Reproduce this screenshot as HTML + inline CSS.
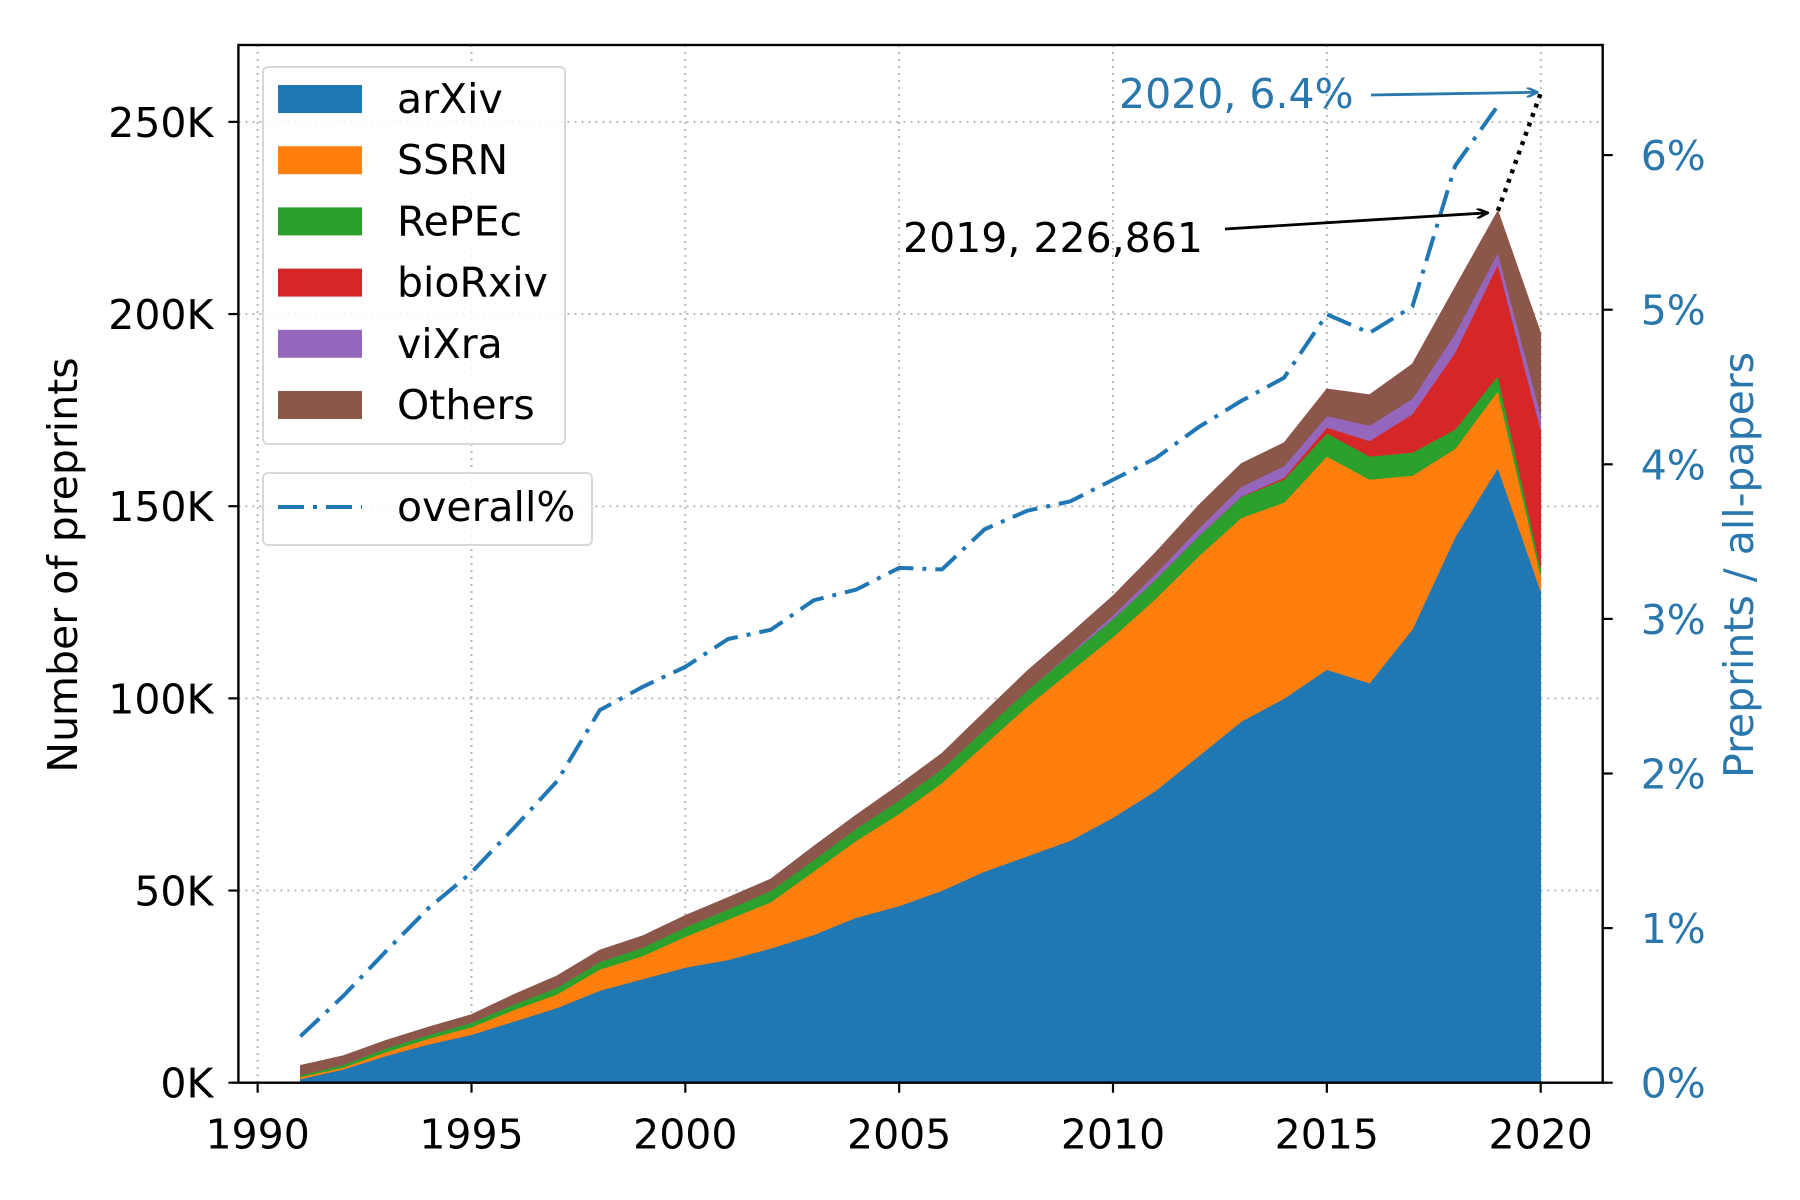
<!DOCTYPE html>
<html><head><meta charset="utf-8"><style>
body{margin:0;background:#fff}
svg{display:block;font-family:"DejaVu Sans","Liberation Sans",sans-serif}
</style></head><body>
<svg id="chart" width="1800" height="1200" viewBox="0 0 1800 1200" xmlns="http://www.w3.org/2000/svg">
<g id="grid"></g>
<g id="areas"></g>
<g id="lines"></g>
<g id="axes"></g>
<g id="legend"></g>
<g id="annot"></g>
</svg>
<script>
const years=[1991,1992,1993,1994,1995,1996,1997,1998,1999,2000,2001,2002,2003,2004,2005,2006,2007,2008,2009,2010,2011,2012,2013,2014,2015,2016,2017,2018,2019,2020];
const arxiv=[1,3.5,7,10,12.5,16,19.5,24,27,30,32,35,38.5,43,46,50,55,59,63,69,76,85,94,100,107.5,104,118,142,160,128];
const ssrn=[0.5,0.5,1,1.5,2,3,3.5,5.5,6,8,10.5,12,16.5,20,24,28,33,39,44,47,50,52,53,51,55.5,53,40,23,20,4];
const repec=[0.5,0.7,1,1,1.2,1.5,1.8,2,2.2,2.5,2.7,3,3,3.2,3.5,3.7,4,4.2,4.5,4.7,5,5.2,5.5,6,6,6,6,5,4,2];
const biorxiv=[0,0,0,0,0,0,0,0,0,0,0,0,0,0,0,0,0,0,0,0,0,0,0.1,0.5,1.5,4,10,20,29,36];
const vixra=[0,0,0,0,0,0,0,0,0,0,0,0,0,0,0,0,0,0,0.3,1,1.5,2,2.5,3,3,4,4,5,3,4];
const others=[2.5,2.3,2,2,2,2.5,3,3,3,3,3,3,3.5,3.5,4,4,4.5,5,5,5,5.5,6,6,6,7,8,9,12,10.861,21];
const overallPct=[0.30,0.56,0.85,1.13,1.36,1.65,1.95,2.41,2.56,2.69,2.87,2.93,3.12,3.19,3.33,3.32,3.58,3.70,3.76,3.90,4.04,4.24,4.41,4.56,4.97,4.85,5.02,5.93,6.32];
const pct2020=6.4;
const yTicks=[0,50,100,150,200,250];
const yTickLabels=["0K","50K","100K","150K","200K","250K"];
const xTicks=[1990,1995,2000,2005,2010,2015,2020];
const rTicks=[0,1,2,3,4,5,6];
const seriesNames=["arXiv","SSRN","RePEc","bioRxiv","viXra","Others"];
const colors=["#1f77b4","#ff7f0e","#2ca02c","#d62728","#9467bd","#8c564b"];

const L=238.4,R=1602.7,T=45,B=1082.7;
const X=y=>L+(y-1989.55)/(2021.45-1989.55)*(R-L);
const Y=v=>B-v/270*(B-T);
const P=p=>B-p*154.6;
const NS="http://www.w3.org/2000/svg";
function mk(tag,attrs,parent,text){const e=document.createElementNS(NS,tag);for(const k in attrs)e.setAttribute(k,attrs[k]);if(text!==undefined)e.textContent=text;parent.appendChild(e);return e;}
const grid=document.getElementById('grid'),areas=document.getElementById('areas'),lines=document.getElementById('lines'),axes=document.getElementById('axes'),legend=document.getElementById('legend'),annot=document.getElementById('annot');
const FS=41;

xTicks.forEach(t=>{const g=mk('line',{x1:X(t),x2:X(t),y1:T,y2:B,stroke:'#b8b8b8','stroke-width':2,'stroke-dasharray':'2,5'},grid);

});
yTicks.forEach(t=>{const g=mk('line',{x1:L,x2:R,y1:Y(t),y2:Y(t),stroke:'#b8b8b8','stroke-width':2,'stroke-dasharray':'2,5'},grid);

});

const series=[arxiv,ssrn,repec,biorxiv,vixra,others];
let base=years.map(()=>0);
series.forEach((s,i)=>{
  const top=base.map((b,j)=>b+s[j]);
  let d='M'+years.map((y,j)=>X(y)+','+Y(top[j])).join('L');
  for(let j=years.length-1;j>=0;j--)d+='L'+X(years[j])+','+Y(base[j]);
  const p=mk('path',{d:d+'Z',fill:colors[i],stroke:colors[i],'stroke-width':0.8},areas);
  
  
  base=top;
});
const totals=base;

const pl=mk('polyline',{points:overallPct.map((p,j)=>X(years[j])+','+P(p)).join(' '),fill:'none',stroke:'#1f77b4','stroke-width':4,'stroke-dasharray':'26,9,4,9'},lines);


const dl=mk('line',{x1:X(2019),y1:Y(totals[28]),x2:X(2020),y2:P(pct2020),stroke:'#000','stroke-width':4.5,'stroke-dasharray':'4,6'},lines);



const fr=mk('rect',{x:L,y:T,width:R-L,height:B-T,fill:'none',stroke:'#000','stroke-width':2.4},axes);


yTicks.forEach((t,i)=>{mk('line',{x1:L-10,x2:L,y1:Y(t),y2:Y(t),stroke:'#000','stroke-width':2.2},axes);
const tl=mk('text',{x:L-25,y:Y(t)+15,'text-anchor':'end','font-size':FS,fill:'#000'},axes,yTickLabels[i]);

});
xTicks.forEach(t=>{mk('line',{x1:X(t),x2:X(t),y1:B,y2:B+10,stroke:'#000','stroke-width':2.2},axes);
const tl=mk('text',{x:X(t),y:B+66,'text-anchor':'middle','font-size':FS,fill:'#000'},axes,String(t));

});
rTicks.forEach(t=>{mk('line',{x1:R,x2:R+10,y1:P(t),y2:P(t),stroke:'#000','stroke-width':2.2},axes);
const tl=mk('text',{x:R+38,y:P(t)+15,'font-size':FS,fill:'#2a77ad'},axes,t+'%');

});
const yl=mk('text',{transform:'translate(77,565) rotate(-90)','text-anchor':'middle','font-size':FS,fill:'#000'},axes,'Number of preprints');


const ryl=mk('text',{transform:'translate(1753,565) rotate(-90)','text-anchor':'middle','font-size':FS,fill:'#2a77ad'},axes,'Preprints / all-papers');



const lb=mk('rect',{x:263,y:67,width:302,height:377,rx:5,fill:'#fff','fill-opacity':0.85,stroke:'#d8d8d8','stroke-width':2},legend);


seriesNames.forEach((n,i)=>{const cy=99+i*61.2;
const sw=mk('rect',{x:278,y:cy-14,width:84,height:28,fill:colors[i]},legend);


const t=mk('text',{x:397,y:cy+14,'font-size':FS,fill:'#000'},legend,n);

});
const lb2=mk('rect',{x:263,y:473,width:329,height:72,rx:5,fill:'#fff','fill-opacity':0.85,stroke:'#d8d8d8','stroke-width':2},legend);


const ll=mk('line',{x1:278,x2:362,y1:507,y2:507,stroke:'#1f77b4','stroke-width':4,'stroke-dasharray':'26,9,4,9'},legend);


const lt=mk('text',{x:397,y:521,'font-size':FS,fill:'#000'},legend,'overall%');



mk('defs',{},annot).innerHTML='<marker id="ab" markerWidth="12" markerHeight="10" refX="11" refY="5" orient="auto" markerUnits="userSpaceOnUse"><path d="M0,0 L11,5 L0,10" fill="none" stroke="#2a77ad" stroke-width="2.5"/></marker><marker id="ak" markerWidth="12" markerHeight="10" refX="11" refY="5" orient="auto" markerUnits="userSpaceOnUse"><path d="M0,0 L11,5 L0,10" fill="none" stroke="#000" stroke-width="2.5"/></marker>';
const a1=mk('text',{x:1119,y:108,'font-size':FS,fill:'#2a77ad'},annot,'2020, 6.4%');


mk('line',{x1:1371,y1:95,x2:X(2020)-3,y2:P(pct2020)-1,stroke:'#2a77ad','stroke-width':2.8,'marker-end':'url(#ab)'},annot);
const a2=mk('text',{x:903,y:252,'font-size':FS,fill:'#000'},annot,'2019, 226,861');


mk('line',{x1:1225,y1:229,x2:X(2019)-10,y2:Y(totals[28])+2,stroke:'#000','stroke-width':2.8,'marker-end':'url(#ak)'},annot);
</script>
</body></html>
